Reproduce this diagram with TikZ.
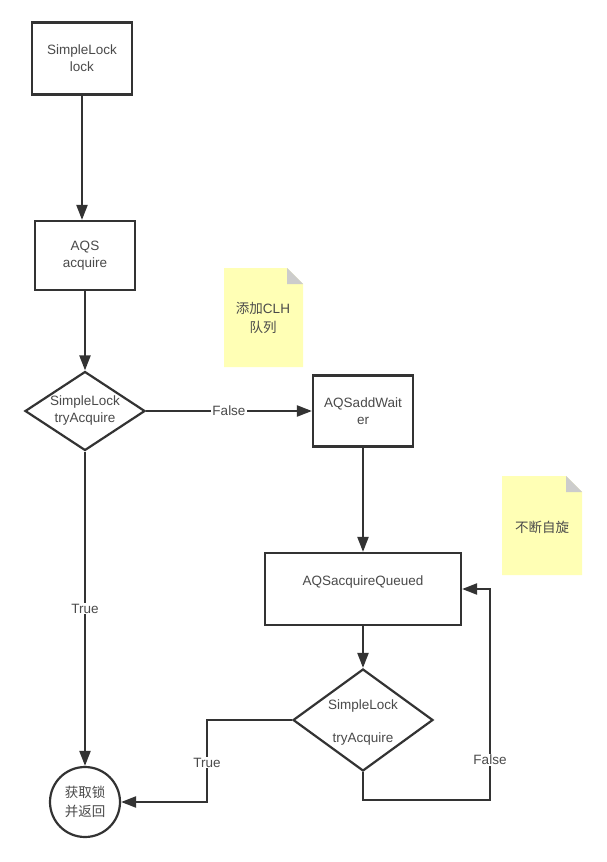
\documentclass[tikz,border=0pt]{standalone}
\usepackage{fontspec}
\setmainfont{Liberation Sans}
\newfontfamily\cjk{Noto Sans CJK SC}
\usetikzlibrary{arrows.meta,shapes.geometric}
\definecolor{ln}{HTML}{333333}
\definecolor{tx}{HTML}{4A4A4A}
\definecolor{note}{HTML}{FFFFB5}
\definecolor{fold}{HTML}{CCCCCC}
\tikzset{
  boxnode/.style={draw=ln,line width=2.2pt,minimum width=100pt,minimum height=71pt,inner sep=0pt,align=center,text=tx,font=\fontsize{13.5}{17}\selectfont},
  decnode/.style={draw=ln,line width=2.2pt,diamond,aspect=1.55,minimum width=120pt,minimum height=79pt,inner sep=0pt,align=center,text=tx,font=\fontsize{13.5}{17}\selectfont},
  conn/.style={draw=ln,line width=2.2pt,-{Triangle[length=15pt,width=11pt]}},
  lbl/.style={fill=white,text=tx,inner sep=1pt,font=\fontsize{13.5}{15}\selectfont},
  txtnode/.style={text=tx,align=center,font=\fontsize{13.5}{19}\selectfont}
}
\begin{document}
\begin{tikzpicture}[x=1pt,y=-1pt]
\useasboundingbox[fill=white] (0,0) rectangle (606,862);
% notes
\fill[note] (224,268) -- (287,268) -- (303,284) -- (303,367) -- (224,367) -- cycle;
\fill[fold] (287,268) -- (303,284) -- (287,284) -- cycle;
\node[txtnode] (n1) at (263,318) {{\cjk 添加}CLH\\{\cjk 队列}};
\fill[note] (502,476) -- (566,476) -- (582,492) -- (582,575) -- (502,575) -- cycle;
\fill[fold] (566,476) -- (582,492) -- (566,492) -- cycle;
\node[txtnode] (n2) at (542,527) {\cjk 不断自旋};
% nodes
\node[boxnode,minimum height=72pt] (b1) at (82,58.5) {SimpleLock\\lock};
\node[boxnode,minimum height=69pt] (b2) at (85,255.5) {AQS\\acquire};
\node[decnode] (d1) at (85,411) {SimpleLock\\tryAcquire};
\node[boxnode] (b3) at (363,411) {AQSaddWait\\er};
\node[boxnode,minimum width=196pt,minimum height=72pt] (b4) at (363,589) {};
\node[txtnode] (t4) at (363,582) {AQSacquireQueued};
\node[decnode,minimum width=140pt,minimum height=102pt,aspect=1.37] (d2) at (363,720) {};
\node[txtnode] (t5) at (363,706) {SimpleLock};
\node[txtnode] (t6) at (363,739) {tryAcquire};
\node[circle,draw=ln,line width=2.2pt,minimum size=70pt,inner sep=0pt,align=center,text=tx,font=\cjk\fontsize{13.5}{19}\selectfont] (c) at (85,802) {获取锁\\并返回};
% connectors
\draw[conn] (b1.south) -- (b1.south |- b2.north);
\draw[conn] (b2.south) -- (d1.north);
\draw[conn] (d1.east) -- node[lbl,pos=0.5] {False} (b3.west);
\draw[conn] (b3.south) -- (b4.north);
\draw[conn] (b4.south) -- (d2.north);
\draw[conn] (d1.south) -- node[lbl,pos=0.5] {True} (c.north);
\coordinate (f1) at (363,800);
\coordinate (f2) at (490,800);
\coordinate (f3) at (490,589);
\draw[conn] (d2.south) -- (f1) -- (f2) -- node[lbl,pos=0.19] {False} (f3) -- (b4.east);
\coordinate (t1) at (207,720);
\coordinate (t2) at (207,802);
\draw[conn] (d2.west) -- (t1) -- node[lbl,pos=0.52] {True} (t2) -- (c.east);
\end{tikzpicture}
\end{document}
